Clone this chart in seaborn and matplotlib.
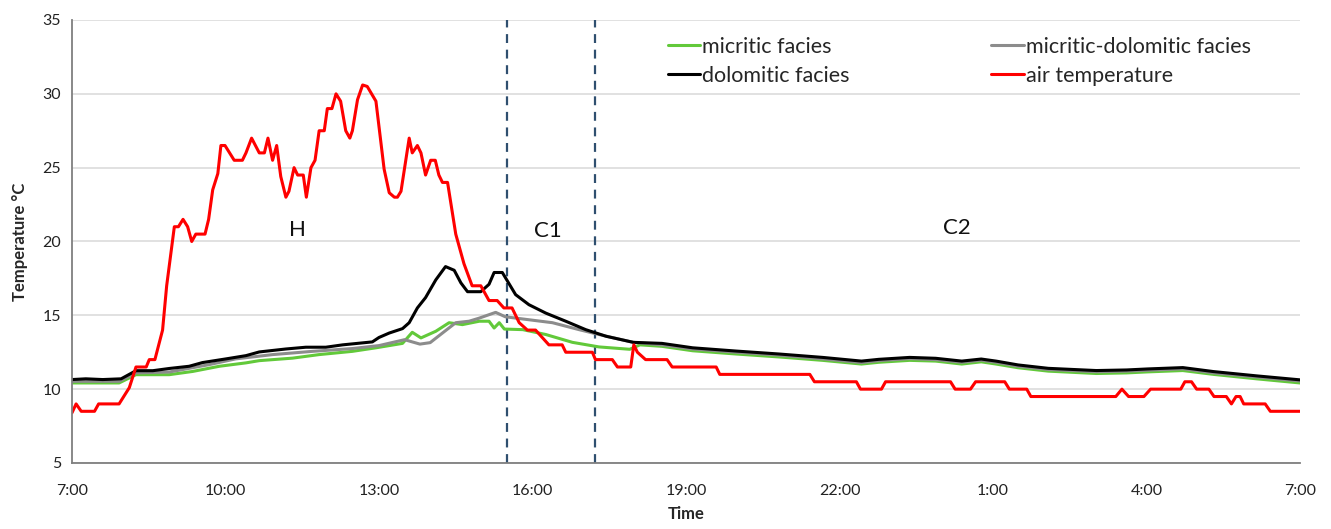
import numpy as np
import matplotlib
matplotlib.use("Agg")
import matplotlib.pyplot as plt
from matplotlib.lines import Line2D
import seaborn as sns
import pandas as pd

# hours after 7:00 and temperatures
air_hours = [0, 0.08, 0.18, 0.44, 0.52, 0.92, 1.12, 1.25, 1.45, 1.51,
             1.62, 1.77, 1.85, 2.0, 2.08, 2.17, 2.26, 2.34, 2.42, 2.6,
             2.67, 2.75, 2.85, 2.91, 2.99, 3.17, 3.33, 3.4, 3.51, 3.66,
             3.76, 3.83, 3.92, 4.0, 4.08, 4.18, 4.24, 4.34, 4.41, 4.52,
             4.58, 4.67, 4.75, 4.83, 4.93, 4.99, 5.08, 5.16, 5.25, 5.35,
             5.43, 5.48, 5.58, 5.68, 5.77, 5.94, 6.1, 6.2, 6.3, 6.36,
             6.43, 6.59, 6.65, 6.75, 6.82, 6.91, 7.01, 7.1, 7.17, 7.24,
             7.34, 7.5, 7.66, 7.82, 7.99, 8.15, 8.31, 8.44, 8.6, 8.74,
             8.9, 9.06, 9.19, 9.32, 9.58, 9.65, 10.17, 10.23, 10.56, 10.66,
             10.92, 10.98, 11.05, 11.21, 11.63, 11.73, 12.59, 12.66, 14.42, 14.51,
             15.33, 15.41, 15.82, 15.9, 17.17, 17.26, 17.56, 17.66, 18.23, 18.32,
             18.66, 18.74, 20.4, 20.52, 20.65, 20.95, 21.08, 21.67, 21.75, 21.88,
             21.98, 22.22, 22.32, 22.56, 22.66, 22.75, 22.83, 22.9, 23.32, 23.42,
             24.0]
air_temp = [8.4, 9.0, 8.5, 8.5, 9.0, 9.0, 10.1, 11.5, 11.5, 12.0,
            12.0, 14.0, 17.0, 21.0, 21.0, 21.5, 21.0, 20.0, 20.5, 20.5,
            21.5, 23.5, 24.6, 26.5, 26.5, 25.5, 25.5, 26.0, 27.0, 26.0,
            26.0, 27.0, 25.5, 26.5, 24.4, 23.0, 23.4, 25.0, 24.5, 24.5,
            23.0, 25.0, 25.5, 27.5, 27.5, 29.0, 29.0, 30.0, 29.5, 27.5,
            27.0, 27.5, 29.6, 30.6, 30.5, 29.5, 24.9, 23.3, 23.0, 23.0,
            23.4, 27.0, 26.0, 26.5, 26.0, 24.5, 25.5, 25.5, 24.5, 24.0,
            24.0, 20.5, 18.5, 17.0, 17.0, 16.0, 16.0, 15.5, 15.5, 14.5,
            14.0, 14.0, 13.5, 13.0, 13.0, 12.5, 12.5, 12.0, 12.0, 11.5,
            11.5, 13.0, 12.5, 12.0, 12.0, 11.5, 11.5, 11.0, 11.0, 10.5,
            10.5, 10.0, 10.0, 10.5, 10.5, 10.0, 10.0, 10.5, 10.5, 10.0,
            10.0, 9.5, 9.5, 10.0, 9.5, 9.5, 10.0, 10.0, 10.5, 10.5,
            10.0, 10.0, 9.5, 9.5, 9.0, 9.5, 9.5, 9.0, 9.0, 8.5,
            8.5]

dol_hours = [0, 0.27, 0.6, 0.96, 1.25, 1.58, 1.9, 2.29, 2.55, 3.01,
             3.4, 3.66, 4.18, 4.57, 4.96, 5.29, 5.87, 6.0, 6.2, 6.46,
             6.59, 6.75, 6.91, 7.11, 7.3, 7.47, 7.6, 7.73, 7.99, 8.15,
             8.25, 8.41, 8.67, 8.93, 9.26, 9.65, 10.04, 10.44, 10.97, 11.53,
             12.13, 12.98, 13.82, 14.67, 15.43, 15.77, 16.37, 16.88, 17.39, 17.77,
             18.06, 18.49, 19.08, 20.02, 20.61, 21.03, 21.71, 22.31, 23.15, 24.0]
dol_temp = [10.65, 10.7, 10.65, 10.7, 11.25, 11.25, 11.4, 11.55, 11.8, 12.05,
            12.27, 12.52, 12.72, 12.84, 12.84, 13.0, 13.2, 13.5, 13.8, 14.1,
            14.5, 15.5, 16.2, 17.4, 18.3, 18.05, 17.2, 16.6, 16.6, 17.1,
            17.9, 17.9, 16.4, 15.72, 15.15, 14.6, 14.03, 13.58, 13.17, 13.1,
            12.8, 12.58, 12.38, 12.15, 11.9, 12.02, 12.15, 12.09, 11.9, 12.04,
            11.9, 11.64, 11.41, 11.26, 11.3, 11.37, 11.46, 11.19, 10.9, 10.63]

mixed_hours = [0, 0.92, 1.25, 1.9, 2.68, 3.2, 3.92, 4.7, 5.48, 6.0,
               6.5, 6.8, 7.0, 7.24, 7.5, 7.76, 7.95, 8.28, 8.47, 8.93,
               9.39, 9.91, 10.3, 10.97, 11.53, 12.13, 12.98, 13.82, 14.67, 15.43,
               15.77, 16.37, 16.88, 17.39, 17.77, 18.06, 18.49, 19.08, 20.02, 20.61,
               21.03, 21.71, 22.31, 23.15, 24.0]
mixed_temp = [10.53, 10.53, 11.1, 11.16, 11.66, 12.05, 12.34, 12.56, 12.75, 12.95,
              13.35, 13.05, 13.15, 13.8, 14.5, 14.6, 14.8, 15.2, 14.9, 14.7,
              14.5, 14.03, 13.7, 13.17, 13.0, 12.72, 12.5, 12.3, 12.05, 11.8,
              11.93, 12.07, 12.0, 11.82, 11.96, 11.82, 11.55, 11.33, 11.18, 11.22,
              11.28, 11.38, 11.1, 10.82, 10.55]

mic_hours = [0, 0.92, 1.25, 1.9, 2.36, 2.88, 3.4, 3.66, 4.31, 4.83,
             5.48, 5.94, 6.46, 6.65, 6.82, 7.11, 7.37, 7.63, 7.96, 8.15,
             8.25, 8.35, 8.45, 8.81, 9.26, 9.78, 10.3, 10.9, 11.1, 11.53,
             12.13, 12.98, 13.82, 14.67, 15.43, 15.77, 16.37, 16.88, 17.39, 17.77,
             18.06, 18.49, 19.08, 20.02, 20.61, 21.03, 21.71, 22.31, 23.15, 24.0]
mic_temp = [10.42, 10.42, 10.98, 10.98, 11.2, 11.55, 11.78, 11.93, 12.1, 12.34,
            12.56, 12.8, 13.1, 13.85, 13.47, 13.92, 14.5, 14.37, 14.6, 14.6,
            14.14, 14.5, 14.07, 14.03, 13.7, 13.17, 12.86, 12.7, 13.0, 12.9,
            12.6, 12.38, 12.18, 11.95, 11.7, 11.82, 11.95, 11.9, 11.7, 11.85,
            11.7, 11.45, 11.22, 11.06, 11.1, 11.17, 11.26, 11.0, 10.7, 10.42]

series_names = ["micritic facies", "micritic-dolomitic facies",
                "dolomitic facies", "air temperature"]
series_colors = ["#62C93A", "#8C8C8C", "#000000", "#FF0000"]

tick_labels = ["7:00", "10:00", "13:00", "16:00", "19:00",
               "22:00", "1:00", "4:00", "7:00"]
phase_bounds = [8.5, 10.22]
phase_labels = ["H", "C1", "C2"]
phase_pos = [(4.4, 20.8), (9.3, 20.7), (17.3, 20.9)]

frames = []
for name, h, t in zip(series_names,
                      [mic_hours, mixed_hours, dol_hours, air_hours],
                      [mic_temp, mixed_temp, dol_temp, air_temp]):
    frames.append(pd.DataFrame({"hour": h, "temp": t, "series": name}))
df = pd.concat(frames, ignore_index=True)

sns.set_style("white")
plt.rcParams["font.family"] = ["Lato", "DejaVu Sans"]

fig = plt.figure(figsize=(13.31, 5.29), dpi=100)
ax = fig.add_axes([0.0541, 0.1248, 0.9226, 0.8374])

sns.lineplot(data=df, x="hour", y="temp", hue="series",
             hue_order=series_names, palette=series_colors,
             sort=False, estimator=None, linewidth=2.2, legend=False, ax=ax)

for xb in phase_bounds:
    ax.axvline(xb, color="#2F4F6F", linestyle=(0, (4, 3)), linewidth=1.6, zorder=1)

for lab, (px, py) in zip(phase_labels, phase_pos):
    ax.text(px, py, lab, fontsize=16, ha="center", va="center", color="#111111")

ax.set_xlim(0, 24)
ax.set_ylim(5, 35)
ax.set_yticks(range(5, 36, 5))
ax.set_xticks(range(0, 25))
ax.set_xticklabels([tick_labels[i // 3] if i % 3 == 0 else "" for i in range(25)])
ax.yaxis.grid(True, color="#D9D9D9", linewidth=1.1)
ax.xaxis.grid(False)
ax.set_axisbelow(True)

for s in ["top", "right"]:
    ax.spines[s].set_visible(False)
for s in ["left", "bottom"]:
    ax.spines[s].set_color("#7F7F7F")
    ax.spines[s].set_linewidth(1.3)

ax.tick_params(axis="x", direction="inout", length=10, width=1.2, color="#333333",
               labelsize=11.5, pad=10, labelcolor="#222222")
ax.tick_params(axis="y", direction="inout", length=8, width=1.2, color="#333333",
               labelsize=11.5, pad=4, labelcolor="#222222")

ax.set_xlabel("Time", fontsize=12, fontweight="bold", labelpad=6)
ax.set_ylabel("Temperature °C", fontsize=12, fontweight="bold", labelpad=10)

# legend: two columns, filled column-wise
order = [0, 2, 1, 3]
handles = [Line2D([], [], color=series_colors[i], linewidth=2.2) for i in order]
labels = [series_names[i] for i in order]
ax.legend(handles, labels, ncol=2, frameon=False, fontsize=15.5,
          loc="upper left", bbox_to_anchor=(0.485, 0.962, 0.475, 0.0),
          mode="expand", handlelength=1.5, handletextpad=0.1,
          borderpad=0, borderaxespad=0, labelspacing=0.42)

fig.savefig("out.png", dpi=100)
